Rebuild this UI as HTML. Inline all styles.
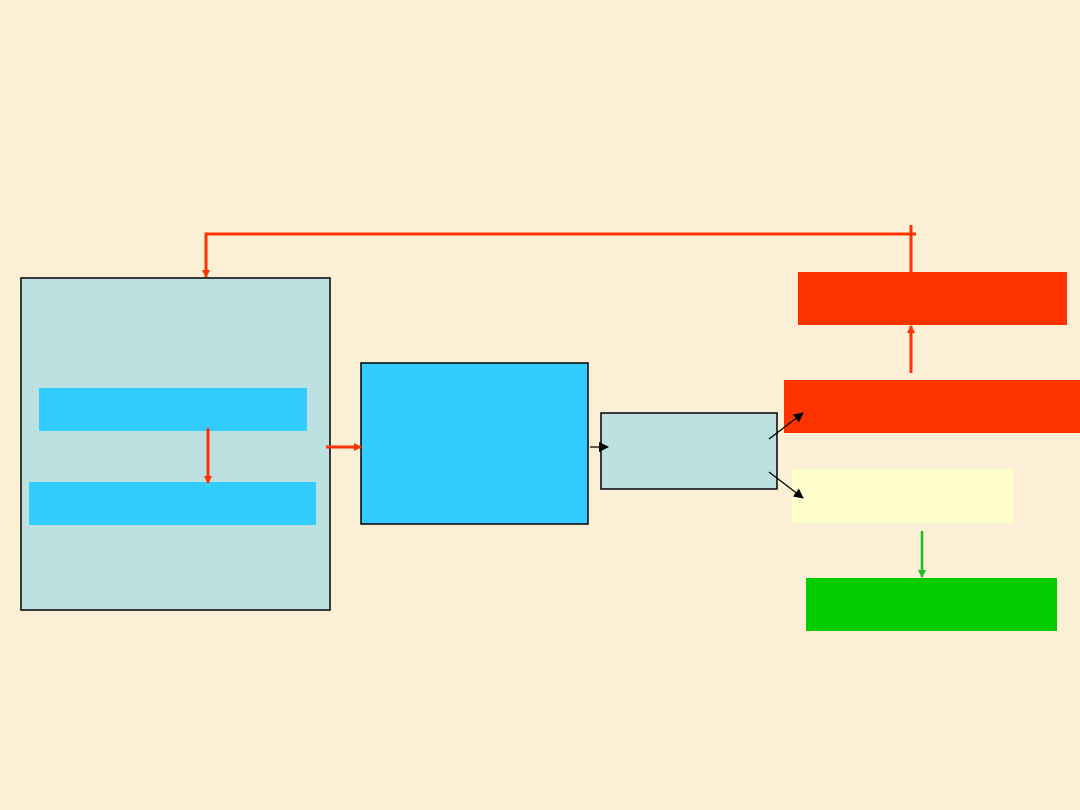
<!DOCTYPE html>
<html><head><meta charset="utf-8"><style>
html,body{margin:0;padding:0;width:1080px;height:810px;overflow:hidden;background:#fbefd6;}
</style></head><body>
<svg width="1080" height="810" xmlns="http://www.w3.org/2000/svg">
<defs>
<marker id="ar" markerWidth="8" markerHeight="8" refX="7" refY="4" orient="auto" markerUnits="userSpaceOnUse"><path d="M0,0 L8,4 L0,8 z" fill="#ff3300"/></marker>
<marker id="ab" markerWidth="10" markerHeight="10" refX="9" refY="5" orient="auto" markerUnits="userSpaceOnUse"><path d="M0,0 L10,5 L0,10 z" fill="#000"/></marker>
<marker id="ag" markerWidth="8" markerHeight="8" refX="7" refY="4" orient="auto" markerUnits="userSpaceOnUse"><path d="M0,0 L8,4 L0,8 z" fill="#22bb22"/></marker>
</defs>
<rect width="1080" height="810" fill="#fbefd6"/>
<rect x="21" y="278" width="309" height="332" fill="#bde0e0" stroke="#000" stroke-width="1.5"/>
<rect x="39" y="388" width="268" height="43" fill="#33ccff"/>
<rect x="29" y="482" width="287" height="43" fill="#33ccff"/>
<rect x="361" y="363" width="227" height="161" fill="#33ccff" stroke="#000" stroke-width="1.5"/>
<rect x="601" y="413" width="176" height="76" fill="#bde0e0" stroke="#000" stroke-width="1.5"/>
<rect x="798" y="272" width="269" height="53" fill="#ff3300"/>
<rect x="784" y="380" width="296" height="53" fill="#ff3300"/>
<rect x="792" y="469" width="221" height="54" fill="#ffffcc"/>
<rect x="806" y="578" width="251" height="53" fill="#00cc00"/>
<g stroke="#ff3300" stroke-width="3" fill="none">
<polyline points="911,225 911,272"/>
<polyline points="916,234 206,234 206,277" marker-end="url(#ar)"/>
<line x1="208" y1="428" x2="208" y2="483" marker-end="url(#ar)"/>
<line x1="326" y1="447" x2="361" y2="447" marker-end="url(#ar)"/>
<line x1="911" y1="373" x2="911" y2="326" marker-end="url(#ar)"/>
</g>
<g stroke="#000" stroke-width="1.3">
<line x1="590" y1="447" x2="608" y2="447" marker-end="url(#ab)"/>
<line x1="769" y1="439" x2="803" y2="413" marker-end="url(#ab)"/>
<line x1="769" y1="472" x2="803" y2="498" marker-end="url(#ab)"/>
</g>
<line x1="922" y1="531" x2="922" y2="577" stroke="#22bb22" stroke-width="2.5" marker-end="url(#ag)"/>
</svg>
</body></html>
